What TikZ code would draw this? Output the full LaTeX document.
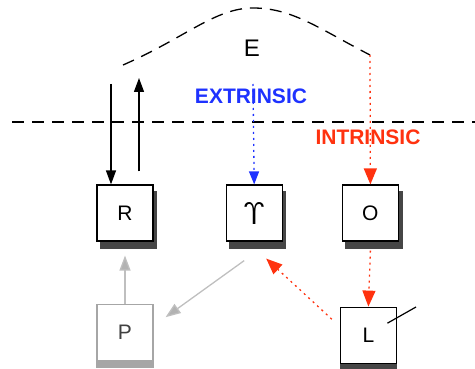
\documentclass[tikz,border=0pt]{standalone}
\usepackage{fontspec}
\setmainfont{Liberation Sans}
\usetikzlibrary{positioning, arrows.meta, backgrounds}
\definecolor{extblue}{RGB}{30,50,255}
\definecolor{intred}{RGB}{255,50,15}
\definecolor{shadegray}{RGB}{70,70,70}

\begin{document}
\begin{tikzpicture}[x=1pt, y=-1pt, every path/.append style={line width=1.3pt},
	box/.style={draw, fill=white, minimum size=56pt, inner sep=0pt, line width=1.2pt,
		font=\fontsize{21}{21}\selectfont},
	faded/.style={box, draw=black!35, text=black!75},
	blk/.style={-{Triangle[length=14pt,width=10pt]}},
	ext/.style={extblue, dash pattern=on 2pt off 4pt, -{Triangle[length=13pt,width=10pt]}},
	int/.style={intred, dash pattern=on 2pt off 4pt, -{Triangle[length=16pt,width=13pt]}},
	gry/.style={black!25, -{Triangle[length=15pt,width=11pt,fill=black!30]}},
	label/.style={font=\bfseries\fontsize{21}{21}\selectfont}]
	\useasboundingbox (0,0) rectangle (475,369);

	% boxes
	\node[box] (r) at (125,213) {R};
	\node[box,right=72pt of r] (y) {\sffamily\fontsize{31}{31}\selectfont Υ};
	\node[box,right=59pt of y] (o) {O};
	\node[box,below=65pt of o,xshift=-2pt] (l) {L};
	\node[faded,below=62pt of r] (p) {P};

	% shadows under the boxes
	\begin{pgfonlayer}{background}
		\foreach \b in {r,y,o}
			\fill[shadegray] ([shift={(3.5pt,-7pt)}]\b.south west) rectangle ([shift={(3.5pt,-7pt)}]\b.north east);
		\fill[shadegray] ([yshift=-7pt]l.south west) rectangle (l.north east);
		\fill[black!35] ([yshift=-7pt]p.south west) rectangle (p.north east);
	\end{pgfonlayer}

	% environment boundary
	\draw[dash pattern=on 12pt off 8pt] (12,122) -- (475,122);
	\draw[dash pattern=on 12pt off 8pt] (123,65) .. controls (185,38) and (215,8) .. (253,8)
		.. controls (292,8) and (318,28) .. (370,55);
	\coordinate (etop) at (370,55);
	\node[font=\fontsize{24}{24}\selectfont] (e) at (252,48) {E};

	\node[label, text=extblue] (extr) at (251,96) {EXTRINSIC};
	\node[label, text=intred] (intr) at (368,137) {INTRINSIC};

	% in and out of R
	\coordinate (rin) at (111,84);
	\coordinate (rout) at (139,78);
	\draw[blk] (rin) -- (rin |- r.north);
	\draw[blk] ([yshift=13pt]rout |- r.north) -- (rout);

	% signals
	\coordinate (ein) at (253,84);
	\draw[ext] (ein) -- (y.north);
	\draw[int] (etop) -- (o.north);
	\draw[int] ([yshift=-9pt]o.south) -- (l.north);
	\draw[int] ([shift={(-8pt,16pt)}]l.west) -- ([shift={(12pt,-17pt)}]y.south);
	\draw[gry] ([shift={(-10pt,-19pt)}]y.south) -- ([shift={(12pt,15pt)}]p.east);
	\draw[gry] (p.north) -- ([yshift=-14pt]r.south);

	\coordinate (lend) at (416,307);
	\draw[line width=1.2pt] ([shift={(19pt,12pt)}]l.center) -- (lend);
\end{tikzpicture}
\end{document}
